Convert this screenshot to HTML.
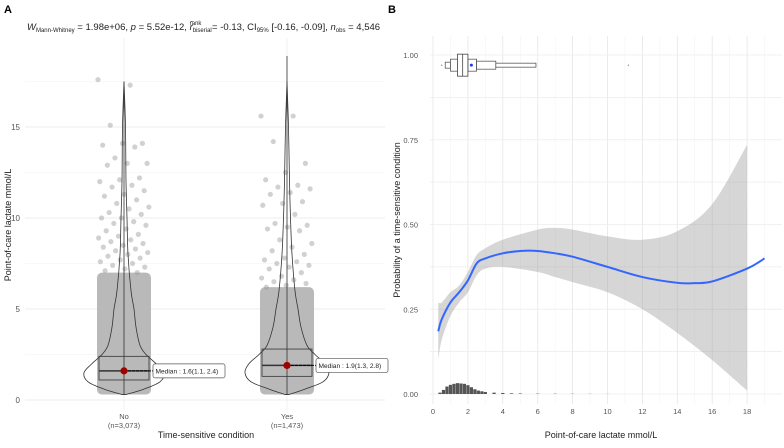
<!DOCTYPE html>
<html><head><meta charset="utf-8"><style>
body{margin:0;background:#fff;font-family:"Liberation Sans",sans-serif}
svg text{font-family:"Liberation Sans",sans-serif}
</style></head><body>
<svg id="s" width="784" height="443" viewBox="0 0 784 443" xmlns="http://www.w3.org/2000/svg">
<text x="4" y="13" font-size="11" font-weight="bold">A</text>
<text x="388" y="13" font-size="11" font-weight="bold">B</text>
<text x="27" y="30" font-size="9.5" fill="#222"><tspan font-style="italic">W</tspan><tspan font-size="6" dy="2">Mann-Whitney</tspan><tspan dy="-2"> = 1.98e+06, </tspan><tspan font-style="italic">p</tspan><tspan> = 5.52e-12, </tspan><tspan font-style="italic">r̂</tspan><tspan font-size="6" dy="2">biserial</tspan><tspan font-size="6" dx="-22" dy="-7">rank</tspan><tspan dx="8" dy="5"> = -0.13, CI</tspan><tspan font-size="6" dy="2">95%</tspan><tspan dy="-2"> [-0.16, -0.09], </tspan><tspan font-style="italic">n</tspan><tspan font-size="6" dy="2">obs</tspan><tspan dy="-2"> = 4,546</tspan></text>
<g id="A"></g><g id="B"></g>
</svg>
<script>
// ---------- Panel A data ----------
const groups=["No","Yes"];
const groupN=["n=3,073","n=1,473"];
const medians=[1.6,1.9];
const q1=[1.1,1.3];
const q3=[2.4,2.8];
const whiskHi=[17.5,18.9];
const ticksA=[0,5,10,15];
const sparseNo=[17.6,17.3,15.1,14.1,14.1,14.0,13.9,13.3,13.0,13.0,12.9,12.2,12.1,12.0,11.8,11.7,11.5,11.3,11.2,11.0,10.8,10.6,10.5,10.3,10.2,10.0,10.0,9.8,9.7,9.6,9.4,9.3,9.1,9.0,8.9,8.8,8.7,8.6,8.5,8.4,8.3,8.2,8.1,8.0,7.9,7.8,7.7,7.6,7.5,7.4,7.3,7.2,7.1,7.0];
const sparseYes=[15.6,15.6,14.2,13.0,12.5,12.1,11.8,11.7,11.6,11.4,11.3,10.9,10.8,10.7,10.2,9.7,9.6,9.5,9.4,9.3,8.8,8.6,8.4,8.2,8.0,7.8,7.7,7.6,7.5,7.4,7.3,7.2,7.0,6.8,6.7,6.6,6.5,6.4,6.3,6.2];
const denseTop=[7.0,6.2];
const violinY=[0.3,0.6,1.0,1.5,2.0,2.5,3,4,5,6,8,10,12,15,17.5];
const violinNo=[2,20,36,40,32,22,16,12,10,7,4,3,2,1.5,0];
const violinYes=[2,18,36,42,38,28,20,14,11,8,5,3.5,2.5,1.5,0];
// ---------- Panel B data ----------
const lacX=[0.3,0.5,1,1.5,2,2.5,3,4,5,6,7,8,10,12,14,15,16,18,19];
const fitP=[0.185,0.22,0.27,0.30,0.335,0.385,0.40,0.415,0.422,0.422,0.415,0.405,0.375,0.345,0.328,0.327,0.332,0.37,0.40];
const bandX=[0.3,0.5,1,1.5,2,2.5,3,4,6,7,8,10,12,14,16,18];
const bandLo=[0.10,0.16,0.23,0.27,0.30,0.35,0.37,0.375,0.36,0.345,0.33,0.30,0.25,0.18,0.10,0.01];
const bandHi=[0.27,0.27,0.30,0.32,0.36,0.41,0.43,0.455,0.485,0.49,0.485,0.465,0.455,0.48,0.56,0.735];
const histX=[0.4,0.6,0.8,1.0,1.2,1.4,1.6,1.8,2.0,2.2,2.4,2.6,2.8,3.0,3.5,4.0,4.5,5,6,7,8,9,10];
const histH=[0.004,0.012,0.022,0.027,0.030,0.032,0.031,0.030,0.026,0.020,0.014,0.010,0.008,0.006,0.004,0.003,0.002,0.0015,0.001,0.0008,0.0006,0.0004,0.0003];
const xTicksB=[0,2,4,6,8,10,12,14,16,18];
const yTicksB=[0,0.25,0.5,0.75,1.0];
const topBox={min:0.5,lo1:0.7,lo2:1.0,q1:1.4,med:1.7,q3:2.0,hi1:2.5,hi2:3.6,max:5.9,mean:2.2,out:11.2};

const NS="http://www.w3.org/2000/svg";
function mk(p,t,a){const e=document.createElementNS(NS,t);for(const k in a)e.setAttribute(k,a[k]);p.appendChild(e);return e;}
function smooth(pts){let d='M'+pts[0][0]+','+pts[0][1];for(let i=0;i<pts.length-1;i++){const p0=pts[i-1]||pts[i],p1=pts[i],p2=pts[i+1],p3=pts[i+2]||p2;d+='C'+(p1[0]+(p2[0]-p0[0])/6)+','+(p1[1]+(p2[1]-p0[1])/6)+' '+(p2[0]-(p3[0]-p1[0])/6)+','+(p2[1]-(p3[1]-p1[1])/6)+' '+p2[0]+','+p2[1];}return d;}
const A=document.getElementById('A'),B=document.getElementById('B');
const yA=v=>400-v*18.2;
const xA=i=>[124,287][i];
for(let v=0;v<=17.5;v+=2.5){const g=mk(A,'line',{x1:25,x2:385,y1:yA(v),y2:yA(v),stroke:ticksA.includes(v)?'#e6e6e6':'#f2f2f2','stroke-width':ticksA.includes(v)?0.8:0.5});}
groups.forEach((g,i)=>{const l=mk(A,'line',{x1:xA(i),x2:xA(i),y1:38,y2:410,stroke:'#eee','stroke-width':0.8});});
ticksA.forEach(v=>{const t=mk(A,'text',{x:20,y:yA(v)+3,'font-size':8,fill:'#555','text-anchor':'end'});t.textContent=v;});
groups.forEach((g,i)=>{
  const t=mk(A,'text',{x:xA(i),y:419,'font-size':7.5,fill:'#555','text-anchor':'middle'});t.textContent=g;
  const n=mk(A,'text',{x:xA(i),y:428,'font-size':7.5,fill:'#555','text-anchor':'middle'});n.textContent='('+groupN[i]+')';
  const d=mk(A,'rect',{x:xA(i)-27,y:yA(denseTop[i]),width:54,height:yA(0.3)-yA(denseTop[i]),fill:'#b9b9b9',rx:5});
  const sp=i?sparseYes:sparseNo;
  sp.forEach((v,k)=>{const off=((k*0.618)%1-0.5)*52;const c=mk(A,'circle',{cx:xA(i)+off,cy:yA(v),r:2.6,fill:'#999','fill-opacity':0.45});});
  const w=i?violinYes:violinNo;
  const right=violinY.map((v,k)=>[xA(i)+w[k],yA(v)]);
  const left=violinY.map((v,k)=>[xA(i)-w[k],yA(v)]).reverse();
  const vp=mk(A,'path',{d:smooth(right)+smooth(left).replace('M','L')+'Z',fill:'none',stroke:'#333','stroke-width':0.8});
  const wl=mk(A,'line',{x1:xA(i),x2:xA(i),y1:yA(0.3),y2:yA(whiskHi[i]),stroke:'#333','stroke-width':0.8});
  const bx=mk(A,'rect',{x:xA(i)-25,y:yA(q3[i]),width:50,height:yA(q1[i])-yA(q3[i]),fill:'none',stroke:'#333','stroke-width':0.8});
  const ml=mk(A,'line',{x1:xA(i)-25,x2:xA(i)+25,y1:yA(medians[i]),y2:yA(medians[i]),stroke:'#333','stroke-width':1.5});
  const dl=mk(A,'line',{x1:xA(i),x2:xA(i)+29,y1:yA(medians[i]),y2:yA(medians[i]),stroke:'#000','stroke-width':1,'stroke-dasharray':'3,1'});
  const md=mk(A,'circle',{cx:xA(i),cy:yA(medians[i]),r:3.6,fill:'#a00000'});
  const lb=mk(A,'rect',{x:xA(i)+29,y:yA(medians[i])-7,width:72,height:14,rx:2,fill:'#fff',stroke:'#555','stroke-width':0.7});
  const lt=mk(A,'text',{x:xA(i)+31.5,y:yA(medians[i])+2.5,'font-size':6.6,fill:'#222'});lt.textContent='Median : '+medians[i].toFixed(1)+'('+q1[i].toFixed(1)+', '+q3[i].toFixed(1)+')';
});
let t=mk(A,'text',{x:206,y:438,'font-size':9,fill:'#222','text-anchor':'middle'});t.textContent='Time-sensitive condition';
t=mk(A,'text',{x:0,y:0,'font-size':9,fill:'#222','text-anchor':'middle',transform:'translate(11,225) rotate(-90)'});t.textContent='Point-of-care lactate mmol/L';
// ---- B
const xB=v=>433+v*17.45, yB=v=>394-v*339;
for(let v=0;v<=19;v+=1){const l=mk(B,'line',{x1:xB(v),x2:xB(v),y1:36,y2:404,stroke:v%2?'#f2f2f2':'#e6e6e6','stroke-width':v%2?0.5:0.8});}
for(let v=0;v<=1.0001;v+=0.125){const l=mk(B,'line',{x1:430,x2:782,y1:yB(v),y2:yB(v),stroke:'#ececec','stroke-width':0.7});}
xTicksB.forEach(v=>{const e=mk(B,'text',{x:xB(v),y:414,'font-size':7.5,fill:'#555','text-anchor':'middle'});e.textContent=v;});
yTicksB.forEach(v=>{const e=mk(B,'text',{x:418,y:yB(v)+3,'font-size':7.5,fill:'#555','text-anchor':'end'});e.textContent=v.toFixed(2);});
const hiPts=bandX.map((v,k)=>[xB(v),yB(bandHi[k])]);
const loPts=bandX.map((v,k)=>[xB(v),yB(bandLo[k])]).reverse();
let e=mk(B,'path',{d:smooth(hiPts)+'L'+smooth(loPts).slice(1)+'Z',fill:'#999','fill-opacity':0.4});
e=mk(B,'path',{d:smooth(lacX.map((v,k)=>[xB(v),yB(fitP[k])])),fill:'none',stroke:'#3366ff','stroke-width':2,'stroke-linejoin':'round'});
histX.forEach((v,k)=>{const r=mk(B,'rect',{x:xB(v)-1.6,y:yB(histH[k]),width:3.2,height:yB(0)-yB(histH[k]),fill:'#555'});});
const yc=yB(0.97),b=topBox;
[[b.lo1,b.lo2,3],[b.lo2,b.q1,6],[b.q3,b.hi1,6],[b.hi1,b.hi2,4],[b.hi2,b.max,2]].forEach(s=>{const r=mk(B,'rect',{x:xB(s[0]),y:yc-s[2],width:xB(s[1])-xB(s[0]),height:2*s[2],fill:'#fff',stroke:'#444','stroke-width':0.7});});
e=mk(B,'rect',{x:xB(b.q1),y:yc-11,width:xB(b.q3)-xB(b.q1),height:22,fill:'#fff',stroke:'#444','stroke-width':0.8});
e=mk(B,'line',{x1:xB(b.med),x2:xB(b.med),y1:yc-11,y2:yc+11,stroke:'#444','stroke-width':0.8});
e=mk(B,'circle',{cx:xB(b.mean),cy:yc,r:1.5,fill:'#2233ff'});
e=mk(B,'circle',{cx:xB(b.out),cy:yc,r:0.6,fill:'#666'});
e=mk(B,'circle',{cx:xB(b.min),cy:yc,r:0.6,fill:'#666'});
t=mk(B,'text',{x:601,y:438,'font-size':9,fill:'#222','text-anchor':'middle'});t.textContent='Point-of-care lactate mmol/L';
t=mk(B,'text',{x:0,y:0,'font-size':9,fill:'#222','text-anchor':'middle',transform:'translate(400,220) rotate(-90)'});t.textContent='Probability of a time-sensitive condition';
</script>
</body></html>
